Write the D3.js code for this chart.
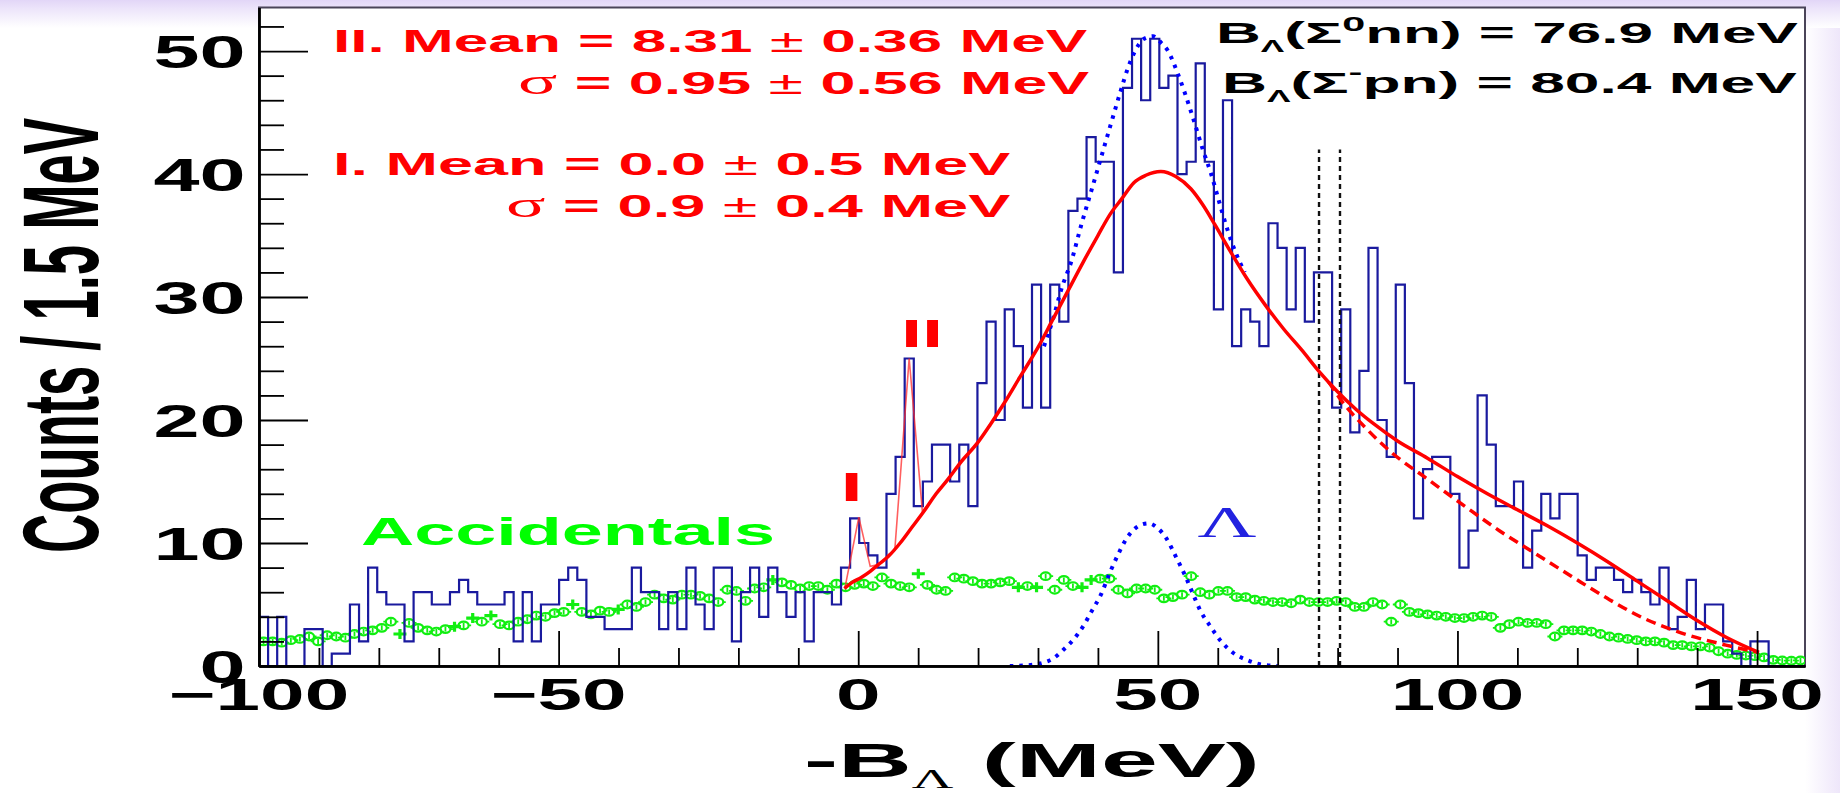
<!DOCTYPE html>
<html>
<head>
<meta charset="utf-8">
<script src="https://cdn.jsdelivr.net/npm/d3@7"></script>
<style>
    body { margin: 0; background: #fff; }
    svg { display: block; }
    text { font-family: 'Liberation Sans', Arial, Helvetica, sans-serif; font-weight: bold; }
</style>
</head>
<body>
<div id="chart"></div>
<script>
// histogram: 170 bins between -100 and 158 MeV
const histRange = [-100, 158]
const counts = [
    4, 0, 4, 0, 0, 3, 3, 0, 1, 1,
    5, 2, 8, 6, 5, 5, 2, 6, 6, 5,
    5, 6, 7, 6, 5, 5, 5, 6, 2, 6,
    2, 5, 5, 7, 8, 7, 4, 4, 3, 3,
    3, 8, 6, 6, 3, 6, 3, 8, 5, 3,
    8, 8, 2, 6, 8, 4, 8, 6, 4, 6,
    2, 6, 6, 5, 8, 12, 10, 9, 8, 14,
    17, 25, 13, 15, 18, 18, 15, 18, 13, 23,
    28, 20, 29, 26, 21, 31, 21, 31, 28, 37,
    38, 43, 41, 41, 32, 47, 51, 46, 51, 47,
    48, 40, 41, 49, 41, 29, 46, 26, 29, 28,
    26, 36, 34, 29, 34, 28, 32, 32, 21, 29,
    19, 24, 34, 20, 17, 31, 23, 12, 16, 17,
    17, 14, 8, 11, 22, 18, 13, 13, 15, 8,
    11, 14, 12, 14, 14, 9, 7, 8, 8, 7,
    6, 7, 6, 5, 8, 3, 4, 7, 3, 5,
    5, 2, 1, 0, 2, 2, 0, 0, 0, 0
]
// accidentals estimate, one point per bin
const accidentals = [
    2.0, 2.0, 1.9, 2.1, 2.2, 2.4, 2.0, 2.5, 2.4, 2.3,
    2.6, 2.8, 2.9, 3.1, 3.6, 2.6, 3.5, 3.1, 2.9, 2.8,
    3.0, 3.2, 3.3, 3.9, 3.6, 4.1, 3.4, 3.3, 3.6, 3.8,
    4.1, 4.0, 4.3, 4.4, 5.0, 4.4, 4.2, 4.5, 4.4, 4.6,
    5.0, 4.8, 5.2, 5.8, 5.5, 5.4, 5.8, 5.8, 5.7, 5.5,
    5.2, 6.2, 6.1, 5.3, 6.3, 6.4, 7.0, 6.8, 6.6, 6.3,
    6.5, 6.5, 6.2, 6.7, 6.4, 6.6, 6.7, 6.5, 7.2, 6.7,
    6.5, 6.4, 7.5, 6.6, 6.2, 6.1, 7.2, 7.1, 6.9, 6.7,
    6.7, 6.8, 6.9, 6.4, 6.5, 6.4, 7.3, 6.2, 7.0, 6.5,
    6.4, 7.0, 7.1, 7.1, 6.2, 5.9, 6.3, 6.3, 6.2, 5.5,
    5.6, 5.8, 7.3, 6.0, 5.8, 6.1, 6.1, 5.6, 5.6, 5.4,
    5.3, 5.2, 5.2, 5.1, 5.4, 5.2, 5.2, 5.2, 5.3, 5.2,
    4.8, 4.8, 5.2, 5.0, 3.6, 5.0, 4.4, 4.3, 4.2, 4.1,
    4.0, 3.9, 3.9, 4.0, 4.1, 4.0, 3.1, 3.4, 3.6, 3.5,
    3.5, 3.4, 2.4, 2.9, 2.9, 2.9, 2.8, 2.6, 2.4, 2.3,
    2.2, 2.1, 2.0, 2.0, 1.9, 1.7, 1.7, 1.6, 1.6, 1.5,
    1.2, 1.0, 0.9, 0.85, 0.8, 0.7, 0.5, 0.45, 0.43, 0.45
]
// bins where the accidental marker shows as a cross
const accCross = [15, 21, 23, 25, 34, 39, 56, 72, 83, 85, 90, 91]

// fit curves, [MeV, counts]
const fitTotal = [
    [-2.3, 6.3], [-1, 6.8], [0.5, 7.2], [2, 7.7], [3.5, 8.3], [5, 8.9], [7, 10.0], [9, 11.3],
    [11, 12.6], [13, 14.0], [15, 15.2], [17, 16.5], [20, 18.2], [22, 19.6], [24.4, 21.4],
    [27, 23.5], [30, 25.9], [32.5, 28.2], [35, 30.5], [37.5, 32.8], [40, 35.0], [42, 36.7],
    [44, 38.0], [46, 39.3], [48, 39.9], [50.5, 40.2], [53, 39.8], [55.5, 38.8], [57.5, 37.5],
    [59.5, 35.9], [62, 33.8], [65, 31.4], [68, 29.3], [71, 27.4], [74, 25.7], [77, 23.9],
    [80, 22.3], [83, 20.9], [86, 19.7], [90, 18.3], [95, 16.9], [100, 15.4], [105, 14.0],
    [110, 12.7], [115, 11.4], [120, 10.0], [125, 8.5], [130, 6.9], [135, 5.3], [140, 3.7],
    [145, 2.3], [150.3, 1.1]
]
const fitDashed = [
    [78.5, 23.1], [80.3, 21.8], [85, 19.2], [88.9, 17.4], [95, 15.2], [101.2, 13.0], [107, 11.0],
    [112.8, 9.2], [119, 7.3], [125, 5.5], [131, 3.9], [137.3, 2.7], [144.8, 1.7], [150.3, 1.1]
]
const fitPeakI = [[-2.2, 6.4], [0.1, 12.1], [2.0, 8.1], [3.0, 8.2]]
const fitPeakII = [[4.8, 9.0], [6.1, 9.4], [8.5, 25.0], [10.7, 12.6], [11.5, 13.0]]
const lambdaSum = [
    [31.0, 26.0], [32.5, 28.2], [34.0, 30.8], [35.5, 32.8], [37.3, 36.0], [39.0, 38.8],
    [40.5, 41.3], [42.0, 43.8], [43.7, 46.6], [45.0, 48.6], [46.3, 50.1], [47.7, 51.0],
    [49.2, 51.2], [50.5, 50.7], [51.7, 50.0], [53.3, 48.2], [54.5, 46.6], [56.1, 44.2],
    [57.5, 42.0], [58.9, 40.0], [60.2, 37.8], [61.6, 35.5], [63.0, 33.6], [64.5, 32.0]
]
const lambdaPeak = [
    [25.3, 0], [28, 0.05], [30.3, 0.2], [32.5, 0.6], [34.2, 1.3], [36, 2.2], [37.5, 3.2],
    [39, 4.5], [40.5, 5.8], [42, 7.6], [43.3, 9.0], [44.7, 10.3], [46, 11.1], [47.3, 11.5],
    [48.5, 11.6], [50, 11.2], [51.4, 10.4], [53, 8.9], [54.6, 7.3], [56, 5.7], [57.1, 4.5],
    [58.8, 3.2], [60.4, 2.1], [62.5, 1.1], [64.8, 0.5], [67, 0.15], [70, 0]
]
const thresholds = [76.9, 80.4]
const thresholdTop = 42

const xTicks = [-100, -50, 0, 50, 100, 150]
const xTickLabels = ['\u2212100', '\u221250', '0', '50', '100', '150']
const yTicks = [0, 10, 20, 30, 40, 50]
const yTickLabels = ['0', '10', '20', '30', '40', '50']

const width = 1840, height = 793
const frame = {left: 259, right: 1805, top: 7.5, bottom: 666}
const binWidth = (histRange[1] - histRange[0]) / counts.length

const svg = d3.select('#chart').append('svg')
    .attr('width', width)
    .attr('height', height)

const x = d3.scaleLinear().domain(histRange).range([frame.left, frame.right])
const y = d3.scaleLinear().domain([0, 53.54]).range([frame.bottom, frame.top])

// slide background
const defs = svg.append('defs')
const topGrad = defs.append('linearGradient')
    .attr('id', 'topGrad').attr('x1', 0).attr('y1', 0).attr('x2', 0).attr('y2', 1)
topGrad.append('stop').attr('offset', '0%').attr('stop-color', '#e2d6f7')
topGrad.append('stop').attr('offset', '30%').attr('stop-color', '#ece4fa')
topGrad.append('stop').attr('offset', '100%').attr('stop-color', '#ffffff')
const sideGrad = defs.append('linearGradient')
    .attr('id', 'sideGrad').attr('x1', 0).attr('y1', 0).attr('x2', 1).attr('y2', 0)
sideGrad.append('stop').attr('offset', '0%').attr('stop-color', '#ffffff')
sideGrad.append('stop').attr('offset', '100%').attr('stop-color', '#eee6fa')
defs.append('clipPath').attr('id', 'plotClip')
    .append('rect')
    .attr('x', frame.left).attr('y', frame.top)
    .attr('width', frame.right - frame.left)
    .attr('height', frame.bottom - frame.top)

svg.append('rect').attr('width', width).attr('height', height).attr('fill', '#fff')
svg.append('rect').attr('x', frame.right).attr('width', width - frame.right).attr('height', height)
    .attr('fill', 'url(#sideGrad)')
svg.append('rect').attr('width', width).attr('height', 28).attr('fill', 'url(#topGrad)')
svg.append('rect')
    .attr('x', frame.left).attr('y', frame.top)
    .attr('width', frame.right - frame.left)
    .attr('height', frame.bottom - frame.top)
    .attr('fill', '#fff')
    .attr('stroke', '#4a4458')
    .attr('stroke-width', 2)

const plot = svg.append('g').attr('clip-path', 'url(#plotClip)')

// accidentals (green)
const accGroup = plot.append('g')
    .attr('stroke', '#11ee11')
    .attr('fill', 'none')
accidentals.forEach((v, i) => {
    const cx = x(histRange[0] + (i + 0.5) * binWidth)
    const cy = y(v)
    if(accCross.includes(i)) {
        accGroup.append('path')
            .attr('d', `M${cx - 6.5},${cy}H${cx + 6.5}M${cx},${cy - 5}V${cy + 5}`)
            .attr('stroke-width', 3.2)
    }
    else {
        accGroup.append('ellipse')
            .attr('cx', cx).attr('cy', cy)
            .attr('rx', 5).attr('ry', 3.8)
            .attr('stroke-width', 2.2)
        accGroup.append('path')
            .attr('d', `M${cx - 7.5},${cy}H${cx - 5}M${cx + 5},${cy}H${cx + 7.5}M${cx},${cy - 2.5}V${cy + 2.5}`)
            .attr('stroke-width', 1.8)
    }
})

// histogram outline
const histPoints = [[histRange[0], 0]]
counts.forEach((c, i) => histPoints.push([histRange[0] + i * binWidth, c]))
histPoints.push([histRange[1], counts[counts.length - 1]])
histPoints.push([histRange[1], 0])
const stepLine = d3.line()
    .x(d => x(d[0]))
    .y(d => y(d[1]))
    .curve(d3.curveStepAfter)
plot.append('path')
    .datum(histPoints)
    .attr('d', stepLine)
    .attr('fill', 'none')
    .attr('stroke', '#1a1a9e')
    .attr('stroke-width', 2.2)

const curve = d3.line()
    .x(d => x(d[0]))
    .y(d => y(d[1]))
    .curve(d3.curveMonotoneX)
const straight = d3.line()
    .x(d => x(d[0]))
    .y(d => y(d[1]))

// threshold markers
thresholds.forEach(t => {
    plot.append('line')
        .attr('x1', x(t)).attr('x2', x(t))
        .attr('y1', y(0)).attr('y2', y(thresholdTop))
        .attr('stroke', '#111')
        .attr('stroke-width', 2.4)
        .attr('stroke-dasharray', '5,4')
})

// lambda curves (blue dotted)
;[lambdaPeak, lambdaSum].forEach(d => {
    plot.append('path')
        .datum(d)
        .attr('d', curve)
        .attr('fill', 'none')
        .attr('stroke', '#0000ff')
        .attr('stroke-width', 4)
        .attr('stroke-dasharray', '3.5,6')
})

// fits (red)
;[fitPeakI, fitPeakII].forEach(d => {
    plot.append('path')
        .datum(d)
        .attr('d', straight)
        .attr('fill', 'none')
        .attr('stroke', '#ff2a2a')
        .attr('stroke-opacity', 0.75)
        .attr('stroke-width', 1.6)
})
plot.append('path')
    .datum(fitDashed)
    .attr('d', curve)
    .attr('fill', 'none')
    .attr('stroke', '#ff0000')
    .attr('stroke-width', 3.5)
    .attr('stroke-dasharray', '10,6')
plot.append('path')
    .datum(fitTotal)
    .attr('d', curve)
    .attr('fill', 'none')
    .attr('stroke', '#ff0000')
    .attr('stroke-width', 3.5)

// axes
const axisStyle = g => {
    g.select('.domain').attr('stroke', '#000').attr('stroke-width', 2.4)
    g.selectAll('.tick line').attr('stroke', '#000').attr('stroke-width', 1.8)
}
svg.append('g')
    .attr('transform', `translate(0,${frame.bottom})`)
    .call(d3.axisBottom(x).tickValues(d3.range(-90, 158, 10).filter(v => v % 50)).tickSize(-18).tickSizeOuter(0).tickFormat(''))
    .call(axisStyle)
svg.append('g')
    .attr('transform', `translate(0,${frame.bottom})`)
    .call(d3.axisBottom(x).tickValues(xTicks).tickSize(-35).tickSizeOuter(0).tickFormat(''))
    .call(axisStyle)
svg.append('g')
    .attr('transform', `translate(${frame.left},0)`)
    .call(d3.axisLeft(y).tickValues(d3.range(2, 54, 2).filter(v => v % 10)).tickSize(-25).tickSizeOuter(0).tickFormat(''))
    .call(axisStyle)
svg.append('g')
    .attr('transform', `translate(${frame.left},0)`)
    .call(d3.axisLeft(y).tickValues(yTicks).tickSize(-49).tickSizeOuter(0).tickFormat(''))
    .call(axisStyle)

// text that is stretched horizontally like the slide
function label(parts, o) {
    const g = svg.append('g')
    const t = g.append('text')
        .attr('text-anchor', o.anchor || 'start')
        .attr('font-size', o.size)
        .attr('fill', o.color || '#000')
    if(o.family) t.style('font-family', o.family)
    if(o.weight) t.style('font-weight', o.weight)
    parts.forEach(p => {
        const s = t.append('tspan').text(p.t)
        if(p.size) s.attr('font-size', p.size)
        if(p.dy) s.attr('dy', p.dy)
        if(p.family) s.style('font-family', p.family)
        if(p.weight) s.style('font-weight', p.weight)
    })
    const w0 = t.node().getBBox().width
    const sx = o.width ? o.width / w0 : o.sx
    g.attr('transform', `translate(${o.x},${o.y}) scale(${sx},1)`)
    return g
}

yTicks.forEach((v, i) => {
    label([{t: yTickLabels[i]}], {x: 245.5, y: y(v) + 16.5, anchor: 'end', size: 46, sx: 1.8})
})
xTicks.forEach((v, i) => {
    label([{t: xTickLabels[i]}], {x: x(v), y: 710, anchor: 'middle', size: 44, sx: 1.82})
})

// axis titles
const yTitle = svg.append('g')
const yTitleText = yTitle.append('text')
    .attr('text-anchor', 'middle')
    .attr('font-size', 54)
    .text('Counts / 1.5 MeV')
const yLen = yTitleText.node().getBBox().width
yTitle.attr('transform', `translate(98,335.5) scale(2,${435 / yLen}) rotate(-90)`)

const serif = "'Liberation Serif', 'DejaVu Serif', serif"
label([
    {t: '-B'},
    {t: '\u039b', size: 27, dy: 11, family: serif, weight: 'normal'},
    {t: ' (MeV)', dy: -11}
], {x: 804, y: 777, size: 48, width: 456})

// fit results
const red = '#ff0000'
label([{t: 'II. Mean = 8.31 '}, {t: '\u00b1', weight: 'normal'}, {t: ' 0.36 MeV'}],
    {x: 333, y: 52, size: 31, color: red, width: 755})
label([{t: '\u03c3', family: serif, weight: 'normal', size: 36}, {t: ' = 0.95  '}, {t: '\u00b1', weight: 'normal'}, {t: ' 0.56 MeV'}],
    {x: 518, y: 94, size: 31, color: red, width: 572})
label([{t: 'I. Mean = 0.0 '}, {t: '\u00b1', weight: 'normal'}, {t: ' 0.5 MeV'}],
    {x: 333, y: 175, size: 31, color: red, width: 678})
label([{t: '\u03c3', family: serif, weight: 'normal', size: 36}, {t: ' = 0.9  '}, {t: '\u00b1', weight: 'normal'}, {t: ' 0.4 MeV'}],
    {x: 506, y: 217, size: 31, color: red, width: 505})

label([
    {t: 'B'}, {t: '\u039b', size: 17, dy: 9}, {t: '(\u03a3', dy: -9},
    {t: '0', size: 20, dy: -12}, {t: 'nn) = 76.9 MeV', dy: 12}
], {x: 1216, y: 43, size: 30, width: 582})
label([
    {t: 'B'}, {t: '\u039b', size: 17, dy: 9}, {t: '(\u03a3', dy: -9},
    {t: '-', size: 20, dy: -14}, {t: 'pn) = 80.4 MeV', dy: 14}
], {x: 1222, y: 93, size: 30, width: 575})

label([{t: 'Accidentals'}], {x: 361, y: 545, size: 39, color: '#00ff00', width: 414})
label([{t: 'I'}], {x: 851.5, y: 501, anchor: 'middle', size: 40, color: red, sx: 2})
label([{t: 'II'}], {x: 922, y: 347, anchor: 'middle', size: 38, color: red, sx: 2})
label([{t: '\u039b'}], {x: 1227, y: 537, anchor: 'middle', size: 44, color: '#2222e0', sx: 1.85, family: serif, weight: 'normal'})
</script>
</body>
</html>
